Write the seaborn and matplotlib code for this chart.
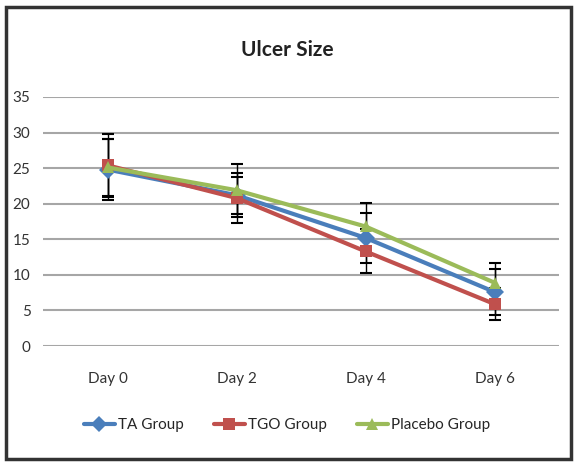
import numpy as np
import pandas as pd
import seaborn as sns
import matplotlib.pyplot as plt
from matplotlib.patches import Rectangle

# data
days = ["Day 0", "Day 2", "Day 4", "Day 6"]
groups = ["TA Group", "TGO Group", "Placebo Group"]
ta_mean = [24.8, 21.2, 15.2, 7.6]
tgo_mean = [25.4, 20.8, 13.3, 5.9]
placebo_mean = [25.1, 21.9, 16.8, 8.9]
ta_err = [4.3, 2.6, 3.5, 3.2]
tgo_err = [4.4, 3.5, 3.1, 2.3]
placebo_err = [4.0, 3.7, 3.3, 2.8]

colors = {"TA Group": "#4A7EBB", "TGO Group": "#C0504D", "Placebo Group": "#9BBB59"}
markers = {"TA Group": "D", "TGO Group": "s", "Placebo Group": "^"}

rows = []
for g, means, errs in zip(groups, [ta_mean, tgo_mean, placebo_mean], [ta_err, tgo_err, placebo_err]):
    for i, d in enumerate(days):
        rows.append({"day": d, "pos": i, "group": g, "size": means[i], "err": errs[i]})
df = pd.DataFrame(rows)

sns.set_style("white")
plt.rcParams["font.family"] = ["Lato", "DejaVu Sans"]

fig = plt.figure(figsize=(5.74, 4.62), dpi=100)
ax = fig.add_axes([43 / 574, (462 - 346) / 462, 516 / 574, 249 / 462])

# error bars first so the lines sit on top
for g in groups:
    sub = df[df.group == g]
    ax.errorbar(sub["pos"], sub["size"], yerr=sub["err"], fmt="none",
                ecolor="black", elinewidth=1, capsize=4, capthick=1.5, zorder=2)

sns.lineplot(data=df, x="pos", y="size", hue="group", style="group",
             palette=colors, markers=markers, dashes=False, linewidth=3,
             markersize=9, markeredgewidth=0, ax=ax, zorder=3, legend=False)

ax.set_xlim(-0.5, 3.5)
ax.set_ylim(0, 35)
ax.set_xticks(range(len(days)))
ax.set_xticklabels(days)
ax.set_yticks(range(0, 36, 5))
ax.yaxis.grid(True, color="#A6A6A6", linewidth=1.5)
ax.set_axisbelow(True)
for s in ax.spines.values():
    s.set_visible(False)
ax.tick_params(axis="both", length=0, labelsize=11, colors="#333333")
ax.tick_params(axis="x", pad=19)
ax.tick_params(axis="y", pad=9)
ax.set_xlabel("")
ax.set_ylabel("")

fig.text(0.5, 1 - 50 / 462, "Ulcer Size", ha="center", va="center",
         fontsize=15, fontweight="bold", color="#222222")

# legend
handles = [plt.Line2D([], [], color=colors[g], marker=markers[g], linewidth=3,
                      markersize=8, markeredgewidth=0) for g in groups]
fig.legend(handles, groups, loc="center", bbox_to_anchor=(0.5, 1 - 425 / 462),
           ncol=3, frameon=False, fontsize=11, handlelength=2.0,
           handletextpad=0.2, columnspacing=2.0)

# chart border
fig.patches.append(Rectangle((6 / 574, 3 / 462), 565 / 574, 452 / 462,
                             transform=fig.transFigure, fill=False,
                             edgecolor="#333333", linewidth=2.5))

fig.savefig("out.png", dpi=100, facecolor="white")
